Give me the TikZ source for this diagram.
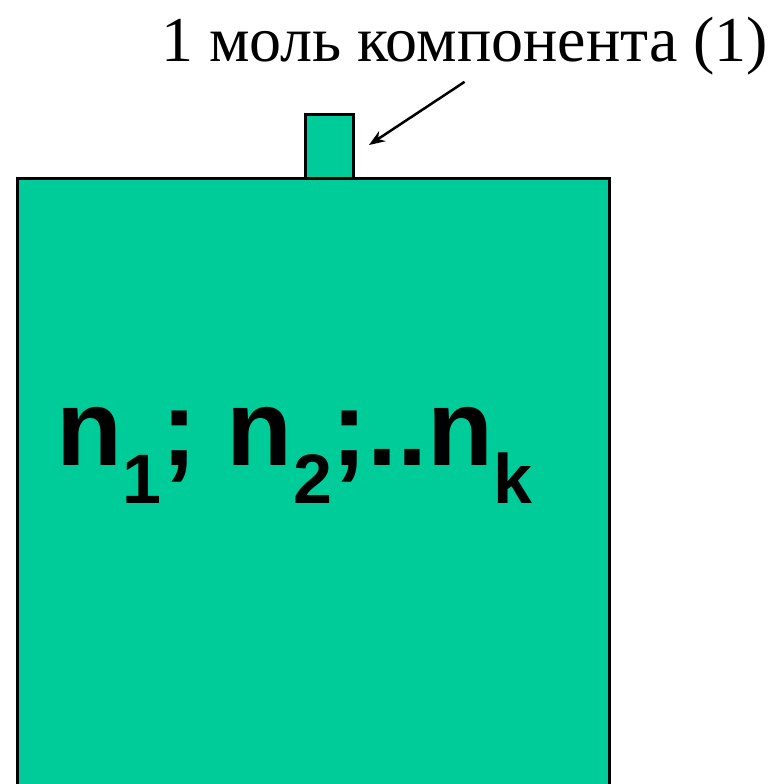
\documentclass[tikz,border=0pt]{standalone}
\usepackage{fontspec}
\setmainfont{Liberation Serif}
\newfontfamily\arialx{Liberation Sans}
\usepackage{tikz}
\usetikzlibrary{arrows.meta,positioning}
\definecolor{greenx}{HTML}{00CC99}
\tikzset{
  ar/.style={-{Stealth[length=16pt,width=12pt]},line width=2.5pt,black},
  vessel/.style={draw=black,line width=3pt,fill=greenx}
}
\newcommand{\subx}[1]{\raisebox{-38pt}{\fontsize{70}{70}\selectfont #1}}

\begin{document}
\begin{tikzpicture}[x=1pt,y=-1pt]
\useasboundingbox (0,0) rectangle (775,784);
\clip (0,0) rectangle (775,784);
\coordinate (T1) at (305,114); \coordinate (T2) at (353,178);
\coordinate (V1) at (17,178); \coordinate (V2) at (609,810);
\draw[vessel] (T1) rectangle (T2);
\draw[vessel] (V1) rectangle (V2);
% label of the vessel
\node[anchor=base west,inner sep=0pt,font=\arialx\bfseries\fontsize{108}{108}\selectfont] (amounts) at (56,465)
  {n\subx{1}; n\subx{2};..n\subx{k}};
% one mole of component added through the tube
\node[anchor=base west,inner sep=0pt,font=\fontsize{64}{64}\selectfont] (mole) at (161,62)
  {1 моль компонента (1)};
\coordinate (tip) at (369,145);
\draw[ar] ([yshift=-6pt]mole.south) -- (tip);
\end{tikzpicture}
\end{document}
